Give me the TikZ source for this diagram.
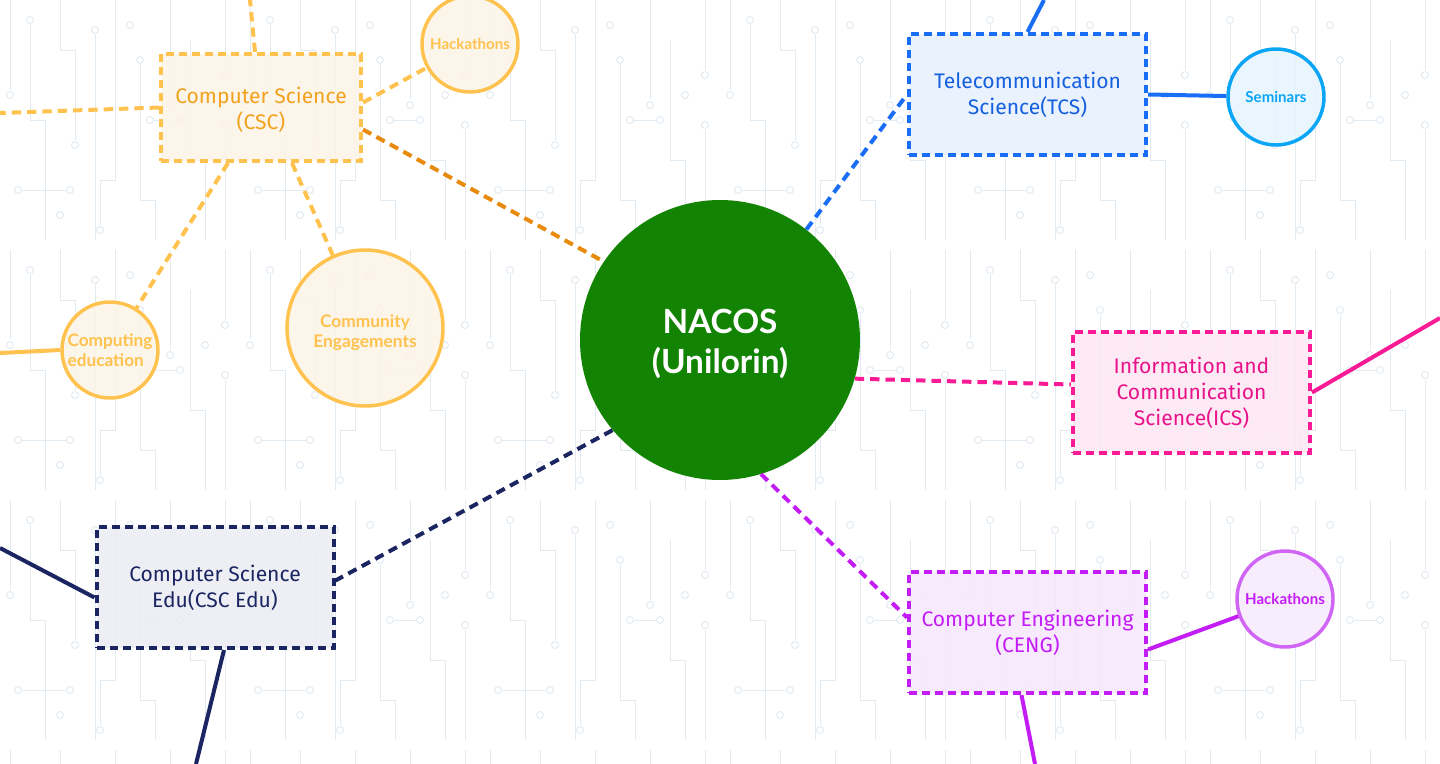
\documentclass[tikz,border=0pt]{standalone}
\usepackage{fontspec}
\setmainfont{Fira Sans}
\newfontfamily\boxfont{Fira Sans}
\newfontfamily\latofont{Lato}
\usetikzlibrary{calc}
\definecolor{nacosG}{HTML}{138303}
\definecolor{cscB}{HTML}{FFC24E}
\definecolor{cscF}{HTML}{FCF4E6}
\definecolor{cscT}{HTML}{F2A21E}
\definecolor{cscD}{HTML}{E88A0C}
\definecolor{tcsB}{HTML}{1A6EF5}
\definecolor{tcsF}{HTML}{E8F1FD}
\definecolor{tcsT}{HTML}{1560E0}
\definecolor{semB}{HTML}{0BA5F5}
\definecolor{semF}{HTML}{E8F5FD}
\definecolor{icsB}{HTML}{FA1A96}
\definecolor{icsF}{HTML}{FDE8F3}
\definecolor{icsT}{HTML}{E8128A}
\definecolor{eduB}{HTML}{1B2562}
\definecolor{eduF}{HTML}{ECEDF3}
\definecolor{cenB}{HTML}{C41CF5}
\definecolor{cenF}{HTML}{F6E8FD}
\definecolor{hk2B}{HTML}{D065F5}
\definecolor{hk2F}{HTML}{F7EBFD}
\definecolor{trace}{HTML}{E3EBF2}
\begin{document}
\begin{tikzpicture}[x=0.75pt,y=-0.75pt,
  deptbox/.style={rectangle, line width=3pt, dash pattern=on 6pt off 3.75pt,
    minimum width=177.75pt, minimum height=90.75pt, inner sep=0pt,
    fill opacity=0.88, text opacity=1,
    align=center, font=\boxfont\fontsize{15.8}{19.5}\selectfont},
  topic/.style={circle, line width=2.6pt, inner sep=0pt, minimum size=72pt,
    fill opacity=0.88, text opacity=1,
    align=center, font=\latofont\bfseries\fontsize{11.3}{15}\selectfont},
  link/.style={line width=3pt, dash pattern=on 7pt off 4.5pt},
  solidlink/.style={line width=3pt},
  tr/.style={draw=trace, line width=0.75pt},
  pad/.style={draw=trace, line width=0.75pt, fill=white}]
\useasboundingbox (0,0) rectangle (1440,764);
\fill[white] (0,0) rectangle (1440,764);

% faint circuit background
\begin{scope}
\clip (0,0) rectangle (1440,764);
\foreach \tx in {0,240,...,1200} {
  \foreach \ty in {0,250,500,750} {
    \begin{scope}[shift={(\tx,\ty)}]
      \draw[tr] (10,0) -- (10,90);
      \draw[pad] (10,95) circle (3.5);
      \draw[tr] (30,25) -- (30,120) -- (45,120) -- (45,240);
      \draw[pad] (30,20) circle (3.5);
      \draw[tr] (60,0) -- (60,50) -- (75,50) -- (75,140);
      \draw[pad] (75,145) circle (3.5);
      \draw[tr] (95,35) -- (95,240);
      \draw[pad] (95,30) circle (3.5);
      \draw[tr] (115,0) -- (115,180) -- (100,180) -- (100,225);
      \draw[pad] (100,230) circle (3.5);
      \draw[tr] (140,65) -- (140,200) -- (155,200) -- (155,240);
      \draw[pad] (140,60) circle (3.5);
      \draw[tr] (170,0) -- (170,100);
      \draw[pad] (170,105) circle (3.5);
      \draw[tr] (190,40) -- (190,160) -- (205,160) -- (205,240);
      \draw[tr] (225,0) -- (225,70);
      \draw[pad] (225,75) circle (3.5);
      \draw[tr] (225,130) -- (225,240);
      \draw[pad] (225,125) circle (3.5);
      \draw[tr] (18,190) -- (70,190);
      \draw[pad] (18,190) circle (3.5);
      \draw[pad] (70,190) circle (3.5);
      \draw[tr] (150,120) -- (180,120);
      \draw[pad] (150,120) circle (3.5);
      \draw[pad] (180,120) circle (3.5);
      \draw[pad] (60,215) circle (3.5);
      \draw[pad] (130,25) circle (3.5);
      \draw[pad] (205,95) circle (3.5);
    \end{scope}
  }
}
\end{scope}

% central node
\node[circle, fill=nacosG, minimum size=210pt, inner sep=0pt, text=white,
  align=center, font=\latofont\bfseries\fontsize{25}{30}\selectfont] (nacos) at (720,340) {\rule{0pt}{24pt}NACOS\\(Unilorin)};

% departments
\node[deptbox, draw=cscB, fill=cscF, text=cscT, minimum width=150pt, minimum height=80.25pt] (csc) at (261,107.5) {\rule{0pt}{16pt}Computer Science\\(CSC)};
\node[deptbox, draw=tcsB, fill=tcsF, text=tcsT] (tcs) at (1027.5,94.5) {Telecommunication\\Science(TCS)};
\node[deptbox, draw=icsB, fill=icsF, text=icsT] (ics) at (1191.5,392.5) {Information and\\Communication\\Science(ICS)};
\node[deptbox, draw=eduB, fill=eduF, text=eduB] (edu) at (215,587.5) {Computer Science\\Edu(CSC Edu)};
\node[deptbox, draw=cenB, fill=cenF, text=cenB] (ceng) at (1027.5,632.5) {Computer Engineering\\(CENG)};

% topics
\node[topic, draw=cscB, fill=cscF, text=cscB] (hack1) at (470,44) {Hackathons};
\node[topic, draw=cscB, fill=cscF, text=cscB, minimum size=117pt,
  font=\latofont\bfseries\fontsize{13}{15}\selectfont] (comm) at (365,328) {\rule{0pt}{17pt}Community\\Engagements};
\node[topic, draw=cscB, fill=cscF, text=cscB, align=left,
  font=\latofont\bfseries\fontsize{12.9}{15}\selectfont] (compedu) at (110,350) {Computing\\education};
\node[topic, draw=semB, fill=semF, text=semB] (sem) at (1276,97) {Seminars};
\node[topic, draw=hk2B, fill=hk2F, text=cenB] (hack2) at (1285,599) {Hackathons};

% free ends
\coordinate (cscL) at (0,113);
\coordinate (cscU) at (250,0);
\coordinate (ceL) at (0,353);
\coordinate (tcsU) at (1044,0);
\coordinate (icsR) at (1440,318);
\coordinate (eduL) at (0,548);
\coordinate (eduD) at (196,764);
\coordinate (cenD) at (1035,764);

% CSC connectors
\draw[link, draw=cscD] ($(csc.east)+(0,22)$) -- (nacos.146);
\draw[link, draw=cscB] (csc.west) -- (cscL);
\draw[link, draw=cscB] ($(csc.north)+(-6,0)$) -- (cscU);
\draw[link, draw=cscB] ($(csc.east)+(0,-5)$) -- (hack1);
\draw[link, draw=cscB] ($(csc.south)+(-33,0)$) -- (compedu);
\draw[link, draw=cscB] ($(csc.south)+(31,0)$) -- (comm);
\draw[solidlink, draw=cscB] (compedu.west) -- (ceL);

% TCS connectors
\draw[link, draw=tcsB] (nacos.52) -- (tcs.west);
\draw[solidlink, draw=tcsB] (tcs.north) -- (tcsU);
\draw[solidlink, draw=tcsB] (tcs.east) -- (sem);

% ICS connectors
\draw[link, draw=icsB] (nacos.-16) -- ($(ics.west)+(0,-8)$);
\draw[solidlink, draw=icsB] (ics.east) -- (icsR);

% CSC Edu connectors
\draw[link, draw=eduB] (nacos.220) -- ($(edu.east)+(0,-7)$);
\draw[solidlink, draw=eduB] ($(edu.west)+(0,10)$) -- (eduL);
\draw[solidlink, draw=eduB] ($(edu.south)+(9,0)$) -- (eduD);

% CENG connectors
\draw[link, draw=cenB] (nacos.-73) -- ($(ceng.west)+(0,-15)$);
\draw[solidlink, draw=cenB] ($(ceng.east)+(0,17)$) -- (hack2);
\draw[solidlink, draw=cenB] ($(ceng.south)+(-6,0)$) -- (cenD);
\end{tikzpicture}
\end{document}
